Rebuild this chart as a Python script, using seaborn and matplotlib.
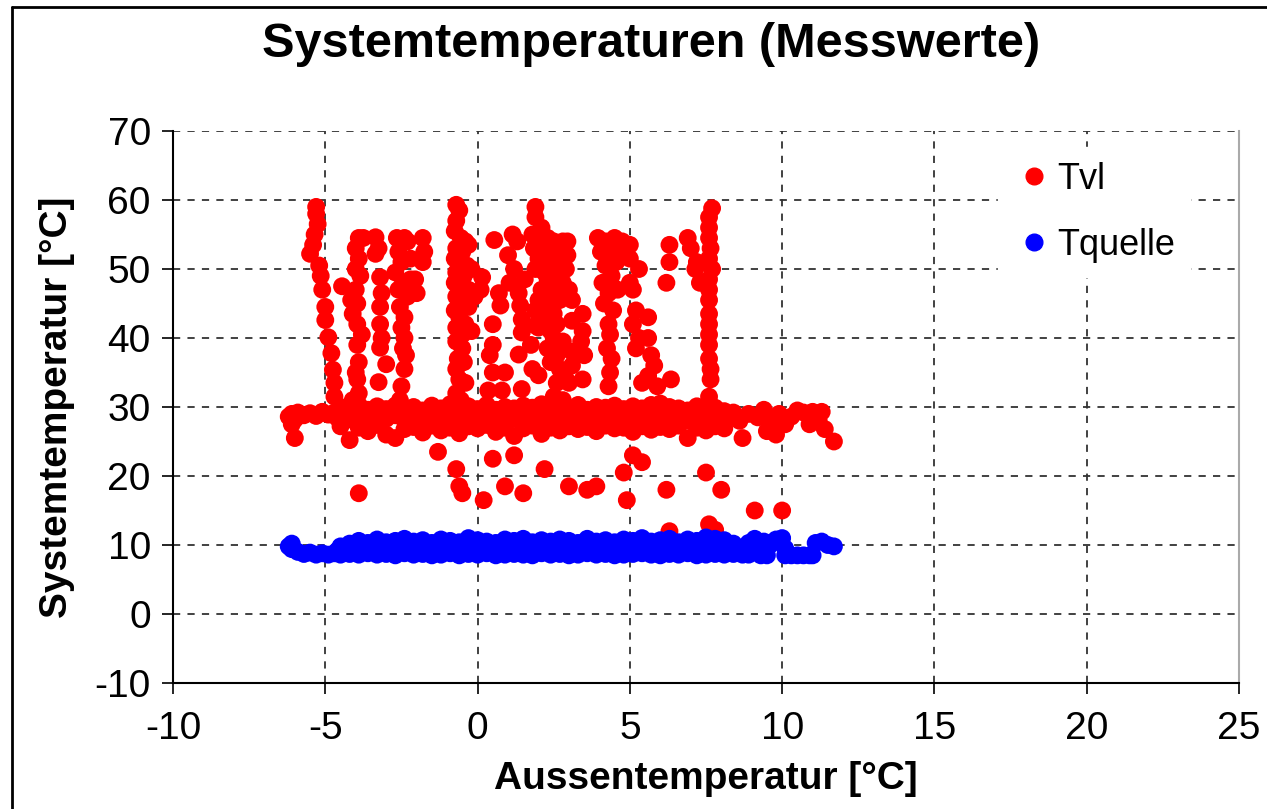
import pandas as pd
import matplotlib.pyplot as plt
import seaborn as sns
from matplotlib.lines import Line2D

# dense band of Tvl / Tquelle along the whole outdoor range
band_x = [-4.5, -4.2, -3.9, -3.6, -3.3, -3.0, -2.7, -2.4, -2.1, -1.8, -1.5, -1.2, -0.9,
          -0.6, -0.3, 0.0, 0.3, 0.6, 0.9, 1.2, 1.5, 1.8, 2.1, 2.4, 2.7, 3.0, 3.3, 3.6,
          3.9, 4.2, 4.5, 4.8, 5.1, 5.4, 5.7, 6.0, 6.3, 6.6, 6.9, 7.2, 7.5, 7.8, 8.1]

tvl_band_top = [30.0, 29.8, 30.3, 29.6, 30.1, 29.7, 30.2, 29.9, 30.0, 29.5, 30.2, 29.8, 30.4,
                29.9, 30.1, 29.7, 30.3, 29.6, 30.0, 29.8, 30.2, 29.9, 30.4, 29.7, 30.1, 29.8,
                30.3, 29.6, 30.0, 29.9, 30.2, 29.7, 30.1, 29.8, 30.3, 29.6, 30.0, 29.8, 29.5,
                30.1, 29.7, 29.9, 29.4]
tvl_band_mid = [28.6, 28.2, 28.9, 28.0, 28.5, 28.3, 28.8, 28.1, 28.6, 28.0, 28.7, 28.2, 28.9,
                28.4, 28.0, 28.5, 28.8, 28.1, 28.6, 28.3, 28.7, 28.0, 28.5, 28.9, 28.2, 28.6,
                28.4, 28.8, 28.1, 28.7, 28.3, 28.5, 28.0, 28.8, 28.2, 28.6, 28.4, 28.9, 28.1,
                28.6, 28.3, 28.7, 28.2]
tvl_band_low = [27.2, 25.2, 27.0, 26.5, 27.4, 26.0, 25.5, 26.8, 27.1, 26.3, 27.3, 26.6, 27.0,
                26.2, 27.2, 26.9, 27.4, 26.4, 27.0, 25.8, 26.9, 27.3, 26.1, 27.0, 26.6, 27.2,
                26.8, 27.1, 26.5, 27.3, 26.9, 27.0, 26.4, 27.2, 26.7, 27.1, 26.8, 27.3, 25.5,
                27.0, 26.6, 27.2, 26.9]

tquelle_band_top = [9.8, 10.2, 10.6, 10.3, 10.8, 10.4, 10.6, 10.9, 10.5, 10.7, 10.3, 10.8, 10.6,
                    10.4, 11.0, 10.7, 10.5, 10.3, 10.8, 10.6, 10.9, 10.4, 10.7, 10.5, 10.8, 10.6,
                    10.3, 10.9, 10.5, 10.7, 10.4, 10.8, 10.6, 11.0, 10.5, 10.7, 10.9, 10.4, 10.8,
                    10.6, 11.1, 10.9, 10.7]
tquelle_band_mid = [9.2, 9.5, 9.6, 9.4, 9.8, 9.5, 9.7, 9.4, 9.6, 9.8, 9.5, 9.7, 9.4, 9.6, 9.9,
                    9.5, 9.7, 9.4, 9.8, 9.6, 9.5, 9.7, 9.4, 9.8, 9.6, 9.5, 9.7, 9.4, 9.6, 9.8,
                    9.5, 9.7, 9.4, 9.6, 9.8, 9.5, 9.7, 9.6, 9.4, 9.8, 9.6, 9.5, 9.3]
tquelle_band_low = [8.6, 8.7, 8.6, 8.8, 8.6, 8.7, 8.5, 8.8, 8.6, 8.7, 8.5, 8.6, 8.8, 8.5, 8.7,
                    8.6, 8.8, 8.5, 8.6, 8.7, 8.6, 8.5, 8.8, 8.6, 8.7, 8.5, 8.6, 8.8, 8.6, 8.7,
                    8.5, 8.6, 8.7, 8.8, 8.6, 8.5, 8.7, 8.6, 8.8, 8.5, 8.6, 8.7, 8.6]

# band ends and the vertical "heating up" columns of Tvl
tvl_x = [-6.2, -6.1, -6.0, -5.9, -5.7, -5.5, -5.3, -5.1, -4.9, -4.7, -4.6, -6.1,
         8.4, 8.6, 8.7, 8.9, 9.2, 9.4, 9.6, 9.7, 9.9, 10.1, 10.3, 10.5, 10.7, 10.9, 11.0,
         11.2, 11.3, 11.4, 9.5, 9.8,
         -5.3, -5.3, -5.25, -5.35, -5.4, -5.5, -5.2, -5.15, -5.1, -5.0, -5.0, -4.9, -4.8,
         -4.75, -4.7, -4.7,
         -3.9, -3.75, -4.0, -3.9, -4.0, -3.85, -4.45, -4.0, -4.15, -3.95, -4.1, -3.95, -3.8,
         -3.95, -3.9, -4.0, -3.95, -3.9, -4.1,
         -3.35, -3.25, -3.35, -3.2, -3.15, -3.2, -3.2, -3.15, -3.2, -3.0, -3.25,
         -2.65, -2.4, -2.3, -2.6, -2.5, -2.2, -2.7, -2.45, -2.2, -2.6, -2.3, -2.55, -2.4,
         -2.5, -2.4, -2.45, -2.35, -2.4, -2.5, -2.55, -1.8, -1.75, -1.8, -2.05, -2.0,
         -0.7, -0.6, -0.7, -0.75, -0.55, -0.4, -0.7, -0.5, -0.3, -0.75, -0.55, -0.35, -0.7,
         -0.45, -0.2, -0.75, -0.5, -0.3, -0.1, -0.7, -0.55, -0.3, -0.75, -0.6, -0.4, -0.7,
         -0.5, -0.2, -0.7, -0.5, -0.65, -0.45, -0.7, -0.6, -0.4, -0.7, -0.55, -0.75,
         0.55, 0.7, 0.75, 0.5, 0.5, 0.4, 0.5, 0.35, 0.8, 0.9, 0.15, 0.1,
         1.15, 1.3, 1.0, 1.2, 1.05, 1.55, 1.35, 1.4, 1.45, 1.45, 1.35, 1.75, 1.8, 1.45,
         2.0, 1.9, 1.9,
         1.9, 1.9, 2.1, 1.8, 2.0, 2.3, 2.5, 2.8, 1.85, 2.2, 2.6, 2.0, 2.4, 2.8, 1.9, 2.2,
         2.6, 2.3, 2.5, 2.8, 2.1, 2.4, 2.0, 2.7, 2.3, 2.5, 2.2, 3.1, 2.6, 2.4, 3.1, 2.0,
         2.5, 2.8, 2.3, 2.6, 2.4, 3.1, 2.7, 2.9, 2.6, 3.1, 2.5, 2.8,
         2.95, 2.95, 2.9, 3.0, 3.45, 3.45, 3.4, 3.5, 3.0, 3.45,
         3.95, 4.2, 4.5, 4.75, 4.05, 4.35, 4.6, 4.2, 4.55, 4.4, 4.1, 4.3, 4.6, 4.15, 4.45,
         4.3, 4.35, 4.25, 4.4, 4.35, 4.3,
         5.0, 5.0, 5.3, 5.0, 5.1, 5.2, 5.1, 5.6, 5.3, 5.2, 5.6, 5.7, 5.8, 5.6, 5.4, 5.9, 6.0,
         6.3, 6.3, 6.2, 6.35,
         6.9, 7.0, 7.2, 7.15, 7.3,
         7.7, 7.6, 7.6, 7.6, 7.65, 7.6, 7.7, 7.6, 7.6, 7.6, 7.6, 7.6, 7.6, 7.6, 7.6, 7.65,
         7.65, 7.6, 7.6]
tvl_y = [28.6, 29.0, 28.2, 29.2, 28.8, 29.1, 28.7, 29.3, 28.9, 29.2, 28.4, 27.5,
         29.2, 28.0, 25.5, 29.0, 28.5, 29.6, 28.2, 27.0, 29.0, 27.5, 28.6, 29.5, 29.2, 27.5,
         29.3, 28.0, 29.3, 26.8, 26.5, 26.0,
         59.0, 58.0, 56.5, 55.0, 53.5, 52.2, 50.5, 49.0, 47.0, 44.5, 42.6, 40.1, 37.8,
         35.4, 33.5, 31.5,
         54.5, 54.5, 53.0, 51.5, 50.0, 49.0, 47.5, 47.0, 45.5, 45.0, 43.5, 42.0, 40.5,
         39.0, 36.5, 35.0, 34.0, 32.0, 31.0,
         54.6, 53.0, 52.2, 48.8, 46.5, 44.5, 42.0, 40.0, 38.6, 36.2, 33.6,
         54.5, 54.5, 54.0, 52.5, 51.0, 51.5, 49.5, 48.0, 48.5, 47.0, 46.0, 44.5, 43.0,
         41.5, 40.0, 38.5, 37.5, 35.5, 33.0, 31.0, 54.5, 52.5, 51.0, 48.5, 46.5,
         59.3, 58.5, 57.0, 55.5, 54.5, 54.0, 53.0, 52.5, 53.5, 51.5, 51.0, 50.5, 49.5,
         49.0, 50.0, 48.0, 47.5, 47.0, 46.0, 46.0, 45.0, 44.5, 44.0, 43.0, 42.0, 41.5,
         40.5, 41.0, 39.5, 38.5, 37.0, 36.5, 35.5, 34.0, 33.5, 32.0, 31.0, 30.5,
         54.2, 46.5, 44.7, 42.0, 39.0, 37.5, 35.0, 32.4, 32.4, 35.0, 48.8, 47.0,
         55.0, 54.0, 52.0, 50.0, 48.0, 48.5, 46.5, 44.7, 42.7, 40.8, 37.6, 39.0, 35.5, 32.6,
         34.6, 44.0, 41.8,
         59.0, 57.5, 56.0, 55.0, 54.5, 54.5, 54.0, 54.0, 53.0, 53.0, 52.5, 51.5, 51.0, 51.5,
         50.0, 49.5, 50.0, 48.5, 47.5, 48.0, 47.0, 46.0, 45.5, 45.5, 44.5, 43.5, 43.0, 45.5,
         42.0, 41.0, 42.5, 41.5, 40.0, 39.5, 38.5, 37.5, 36.5, 38.0, 35.5, 34.0, 33.5, 36.0,
         31.5, 31.0,
         54.0, 52.0, 50.0, 47.0, 43.5, 41.0, 39.5, 37.5, 33.5, 34.0,
         54.5, 54.0, 54.5, 54.0, 52.5, 52.0, 53.0, 50.5, 51.0, 49.0, 48.0, 46.5, 47.0, 45.0,
         44.0, 42.0, 40.5, 38.5, 37.0, 35.0, 33.0,
         53.5, 51.5, 50.0, 48.0, 47.0, 44.0, 42.0, 43.0, 40.0, 38.5, 40.0, 37.5, 36.0, 34.5,
         33.5, 33.0, 30.5,
         53.5, 51.0, 48.0, 34.0,
         54.5, 53.0, 51.0, 50.0, 48.0,
         58.8, 57.5, 56.0, 54.5, 53.0, 51.5, 50.0, 48.5, 47.0, 45.5, 43.5, 42.0, 40.5, 39.0,
         37.0, 35.5, 34.0, 31.5, 30.5]

# scattered low Tvl readings
tvl_out_x = [-6.0, -3.9, -1.3, -0.7, -0.6, -0.5, 0.2, 0.5, 0.9, 1.2, 1.5, 2.2, 3.0, 3.6, 3.9,
             4.8, 4.9, 5.1, 5.4, 6.2, 6.3, 7.5, 7.6, 7.8, 8.0, 9.1, 10.0, 11.7]
tvl_out_y = [25.5, 17.5, 23.5, 21.0, 18.5, 17.5, 16.5, 22.5, 18.5, 23.0, 17.5, 21.0, 18.5, 18.0,
             18.5, 20.5, 16.5, 23.0, 22.0, 18.0, 12.0, 20.5, 13.0, 12.2, 18.0, 15.0, 15.0, 25.0]

# Tquelle band ends
tquelle_x = [-6.2, -6.1, -6.1, -5.9, -5.7, -5.5, -5.3, -5.1, -4.9, -4.7, -4.6,
             8.4, 8.4, 8.6, 8.7, 8.9, 8.9, 9.1, 9.2, 9.3, 9.5, 9.4, 9.6, 9.8, 10.0, 10.1,
             10.3, 10.5, 10.7, 10.9, 11.0, 11.1, 11.3, 11.5, 11.7, 10.1]
tquelle_y = [9.8, 10.2, 9.4, 9.0, 8.7, 8.9, 8.6, 8.8, 8.6, 8.8, 9.2,
             10.2, 8.7, 9.6, 8.6, 10.3, 8.6, 10.9, 9.5, 8.5, 8.5, 10.5, 10.0, 10.8, 11.0, 8.5,
             8.5, 8.5, 8.5, 8.5, 8.5, 10.3, 10.5, 10.0, 9.8, 9.5]

x_all = (band_x * 3 + tvl_x + tvl_out_x) + (band_x * 3 + tquelle_x)
y_all = (tvl_band_top + tvl_band_mid + tvl_band_low + tvl_y + tvl_out_y
         + tquelle_band_top + tquelle_band_mid + tquelle_band_low + tquelle_y)
n_tvl = len(band_x) * 3 + len(tvl_x) + len(tvl_out_x)
series = ['Tvl'] * n_tvl + ['Tquelle'] * (len(x_all) - n_tvl)
df = pd.DataFrame({'Aussen': x_all, 'Temp': y_all, 'Serie': series})

sns.set_theme(style='white')
plt.rcParams['font.family'] = ['Liberation Sans', 'DejaVu Sans']
plt.rcParams['axes.unicode_minus'] = False
plt.rcParams['text.color'] = 'black'
plt.rcParams['axes.labelcolor'] = 'black'

fig = plt.figure(figsize=(12.67, 8.09), dpi=100)
ax = fig.add_axes([173 / 1267, 1 - 683 / 809, (1239 - 173) / 1267, (683 - 131) / 809])

sns.scatterplot(data=df, x='Aussen', y='Temp', hue='Serie',
                palette={'Tvl': '#FF0000', 'Tquelle': '#0000FF'},
                s=165, linewidth=0, legend=False, ax=ax, zorder=3)

ax.set_xlim(-10, 25)
ax.set_ylim(-10, 70)
ax.set_xticks(range(-10, 26, 5))
ax.set_yticks(range(-10, 71, 10))
ax.tick_params(axis='both', labelsize=28, direction='out', length=8, width=1.2,
               color='black', labelcolor='black', pad=8)
ax.tick_params(axis='x', pad=12)
ax.tick_params(left=True, bottom=True)
ax.grid(True, color='#333333', linestyle=(0, (4, 4)), linewidth=1.3)
ax.set_axisbelow(True)

for side in ['left', 'bottom']:
    ax.spines[side].set_color('black')
    ax.spines[side].set_linewidth(1.5)
ax.spines['top'].set_visible(False)
ax.spines['right'].set_color('#aaaaaa')
ax.spines['right'].set_linewidth(1.5)

ax.set_xlabel('Aussentemperatur [°C]', fontsize=28, fontweight='bold', labelpad=10,
              color='black')
ax.set_ylabel('Systemtemperatur [°C]', fontsize=28, fontweight='bold', labelpad=14,
              color='black')
fig.suptitle('Systemtemperaturen (Messwerte)', fontsize=35, fontweight='bold',
             x=651 / 1267, y=1 - 22 / 809, va='top', color='black')

handles = [Line2D([], [], marker='o', linestyle='', color='#FF0000', markersize=12),
           Line2D([], [], marker='o', linestyle='', color='#0000FF', markersize=12)]
leg = ax.legend(handles, ['Tvl', 'Tquelle'], loc='upper left', bbox_to_anchor=(0.757, 1.003),
                fontsize=26, frameon=True, facecolor='white', edgecolor='white',
                framealpha=1, fancybox=False, labelspacing=0.85, handletextpad=0.05,
                borderpad=0.4, handlelength=1.2)
for txt in leg.get_texts():
    txt.set_color('black')
leg.set_zorder(5)

# outer chart border (left and top edge visible)
fig.add_artist(Line2D([12 / 1267, 12 / 1267], [0, 1 - 7 / 809], color='black', lw=2,
                      transform=fig.transFigure))
fig.add_artist(Line2D([12 / 1267, 1], [1 - 7 / 809, 1 - 7 / 809], color='black', lw=2,
                      transform=fig.transFigure))

fig.savefig('out.png', dpi=100)
